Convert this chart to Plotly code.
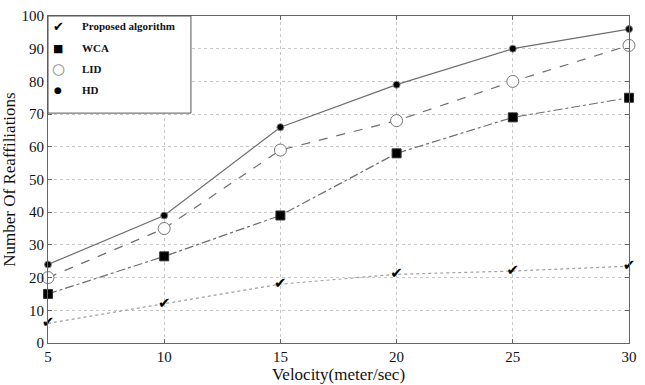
import plotly.graph_objects as go

velocity = [5, 10, 15, 20, 25, 30]
proposed = [6, 12, 18, 21, 22, 23.5]
wca = [15, 26.5, 39, 58, 69, 75]
lid = [20, 35, 59, 68, 80, 91]
hd = [24, 39, 66, 79, 90, 96]

x_ticks = [5, 10, 15, 20, 25, 30]
y_ticks = [0, 10, 20, 30, 40, 50, 60, 70, 80, 90, 100]
legend_names = ["Proposed algorithm", "WCA", "LID", "HD"]

line_col = "#6e6e6e"
serif = "Liberation Serif, Times New Roman, serif"

fig = go.Figure()

fig.add_trace(go.Scatter(
    x=velocity, y=proposed, mode="lines+text", text=["✔"] * len(velocity),
    textposition="middle center", textfont=dict(size=15, color="black", family="DejaVu Sans"),
    line=dict(color="#a0a0a0", width=1.2, dash="dot"), showlegend=False, cliponaxis=False))
fig.add_trace(go.Scatter(
    x=velocity, y=wca, mode="lines+markers",
    line=dict(color=line_col, width=1.2, dash="dashdot"),
    marker=dict(symbol="square", size=9, color="black", line=dict(color="#333", width=1)),
    showlegend=False, cliponaxis=False))
fig.add_trace(go.Scatter(
    x=velocity, y=lid, mode="lines+markers",
    line=dict(color=line_col, width=1.2, dash="dash"),
    marker=dict(symbol="circle", size=12, color="white", line=dict(color="#777", width=1)),
    showlegend=False, cliponaxis=False))
fig.add_trace(go.Scatter(
    x=velocity, y=hd, mode="lines+markers",
    line=dict(color=line_col, width=1.2),
    marker=dict(symbol="circle", size=7, color="black", line=dict(color="#888", width=1)),
    showlegend=False, cliponaxis=False))

axis_common = dict(
    showline=True, linecolor="#666", linewidth=1, mirror="ticks",
    ticks="inside", ticklen=4, tickcolor="#666",
    showgrid=True, gridcolor="#c8c8c8", griddash="dot", gridwidth=1,
    zeroline=False, tickfont=dict(family=serif, size=15, color="#111"),
)

fig.update_xaxes(range=[5, 30], tickvals=x_ticks,
                 title=dict(text="Velocity(meter/sec)", font=dict(family=serif, size=17, color="#111"), standoff=0),
                 **axis_common)
fig.update_yaxes(range=[0, 100], tickvals=y_ticks,
                 title=dict(text="Number Of Reaffiliations", font=dict(family=serif, size=17, color="#111"), standoff=2),
                 **axis_common)

# custom legend box
fig.add_shape(type="rect", xref="paper", yref="paper", x0=0, x1=0.246, y0=0.703, y1=1,
              line=dict(color="#555", width=1), fillcolor="white", layer="above")
sym = ["✔", "■", "○", "●"]
sym_size = [13, 11, 15, 9]
rows = [0.968, 0.901, 0.838, 0.775]
for i, name in enumerate(legend_names):
    fig.add_annotation(x=0.018, y=rows[i], xref="paper", yref="paper", text=sym[i],
                       showarrow=False, xanchor="center", yanchor="middle",
                       font=dict(family="DejaVu Sans", size=sym_size[i], color="black" if i != 2 else "#888"))
    fig.add_annotation(x=0.055, y=rows[i], xref="paper", yref="paper", text="<b>" + name + "</b>",
                       showarrow=False, xanchor="left", yanchor="middle",
                       font=dict(family=serif, size=11, color="#111"))

fig.update_layout(
    width=645, height=385,
    margin=dict(l=48, r=8, t=14, b=38),
    plot_bgcolor="white", paper_bgcolor="white",
    showlegend=False,
)

fig.write_html("out.html")
